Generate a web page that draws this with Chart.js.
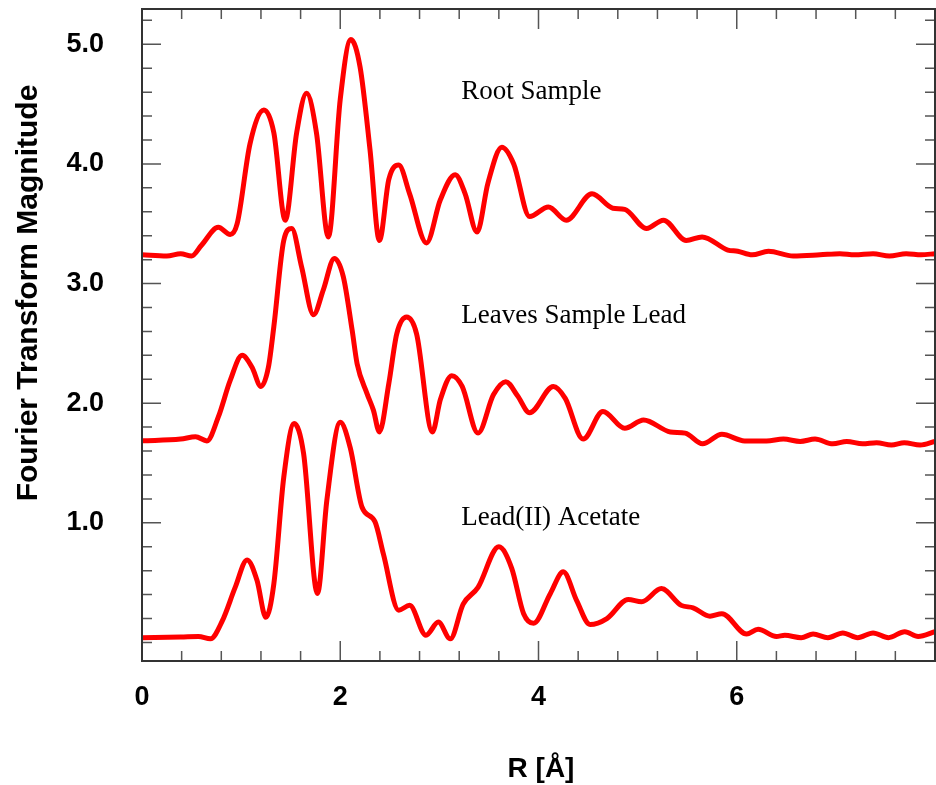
<!DOCTYPE html>
<html lang="en">
<head>
<meta charset="UTF-8">
<title>Fourier Transform Magnitude</title>
<script src="https://cdn.jsdelivr.net/npm/chart.js"></script>
<style>
    body { margin: 0; background: #ffffff; }
    #wrap { width: 936px; height: 785px; }
</style>
</head>
<body>
<div id="wrap"><canvas id="ft" width="936" height="785"></canvas></div>
<script>
// R values (Å) and magnitudes
const rootR = [0, 0.25, 0.39, 0.5, 0.6, 0.77, 0.89, 0.96, 1.09, 1.23, 1.33, 1.445, 1.56, 1.66, 1.76, 1.88, 2.0, 2.107, 2.2, 2.3,
    2.395, 2.49, 2.59, 2.70, 2.87, 3.01, 3.16, 3.26, 3.38, 3.49, 3.63, 3.75, 3.91, 4.10, 4.28, 4.54, 4.75, 4.87, 5.09, 5.26,
    5.49, 5.65, 5.91, 6.01, 6.155, 6.32, 6.57, 6.84, 7.04, 7.19, 7.375, 7.54, 7.71, 7.86, 8.0];
const rootV = [3.24, 3.23, 3.25, 3.23, 3.32, 3.47, 3.41, 3.50, 4.17, 4.45, 4.26, 3.53, 4.26, 4.59, 4.26, 3.39, 4.54, 5.04, 4.81, 4.12,
    3.36, 3.87, 3.99, 3.75, 3.34, 3.70, 3.91, 3.75, 3.43, 3.84, 4.14, 4.0, 3.56, 3.64, 3.53, 3.75, 3.63, 3.62, 3.46, 3.53,
    3.36, 3.39, 3.28, 3.27, 3.24, 3.27, 3.23, 3.24, 3.25, 3.24, 3.25, 3.23, 3.25, 3.24, 3.25];

const leavesR = [0, 0.39, 0.54, 0.655, 0.77, 0.89, 1.01, 1.11, 1.20, 1.275, 1.33, 1.43, 1.51, 1.61, 1.73, 1.83, 1.94, 2.03, 2.12, 2.17,
    2.27, 2.335, 2.395, 2.49, 2.57, 2.67, 2.77, 2.93, 3.01, 3.125, 3.23, 3.39, 3.545, 3.67, 3.79, 3.91, 4.15, 4.27, 4.45, 4.65,
    4.87, 5.06, 5.33, 5.48, 5.655, 5.85, 6.08, 6.30, 6.47, 6.64, 6.79, 6.97, 7.11, 7.27, 7.41, 7.56, 7.69, 7.85, 8.0];
const leavesV = [1.685, 1.70, 1.72, 1.685, 1.885, 2.19, 2.40, 2.30, 2.14, 2.30, 2.64, 3.36, 3.46, 3.14, 2.74, 2.95, 3.21, 3.06, 2.61, 2.33,
    2.08, 1.94, 1.76, 2.165, 2.58, 2.72, 2.58, 1.76, 2.03, 2.23, 2.14, 1.75, 2.07, 2.18, 2.06, 1.92, 2.14, 2.04, 1.70, 1.93,
    1.79, 1.86, 1.76, 1.75, 1.66, 1.74, 1.685, 1.685, 1.70, 1.68, 1.70, 1.66, 1.68, 1.66, 1.67, 1.65, 1.67, 1.65, 1.68];

const acetateR = [0, 0.39, 0.57, 0.69, 0.81, 0.94, 1.06, 1.16, 1.25, 1.33, 1.43, 1.535, 1.63, 1.77, 1.865, 2.0, 2.10, 2.22, 2.35, 2.435,
    2.59, 2.70, 2.865, 2.99, 3.11, 3.24, 3.39, 3.60, 3.73, 3.85, 3.95, 4.12, 4.25, 4.385, 4.52, 4.69, 4.905, 5.04, 5.24, 5.44,
    5.56, 5.73, 5.85, 6.10, 6.215, 6.40, 6.485, 6.65, 6.77, 6.92, 7.07, 7.22, 7.375, 7.53, 7.695, 7.83, 8.0];
const acetateV = [0.04, 0.045, 0.05, 0.03, 0.18, 0.46, 0.69, 0.52, 0.21, 0.49, 1.38, 1.83, 1.58, 0.41, 1.19, 1.84, 1.63, 1.13, 1.01, 0.74,
    0.27, 0.31, 0.06, 0.17, 0.03, 0.32, 0.46, 0.80, 0.62, 0.24, 0.16, 0.41, 0.59, 0.35, 0.15, 0.20, 0.36, 0.34, 0.45, 0.31,
    0.29, 0.22, 0.24, 0.07, 0.11, 0.05, 0.06, 0.04, 0.07, 0.04, 0.08, 0.04, 0.08, 0.04, 0.09, 0.05, 0.09];

const xTickVals = [0, 2, 4, 6];
const yTickVals = [1, 2, 3, 4, 5];
const curveNames = ['Root Sample', 'Leaves Sample Lead', 'Lead(II) Acetate'];
// where each curve name sits, in data units (R, magnitude at baseline)
const nameAt = [[3.22, 4.545], [3.22, 2.67], [3.22, 0.98]];

const toPoints = (rs, vs) => rs.map((r, i) => ({ x: r, y: vs[i] }));

const lineStyle = {
    borderColor: '#ff0000',
    borderWidth: 5,
    pointRadius: 0,
    fill: false,
    cubicInterpolationMode: 'monotone'
};

const decorations = {
    id: 'decorations',
    afterDatasetsDraw(chart) {
        const { ctx, chartArea: a, scales: { x, y } } = chart;
        ctx.save();

        // minor/major ticks on all four sides
        ctx.strokeStyle = '#555';
        ctx.lineWidth = 1.5;
        ctx.beginPath();
        for (let i = 1; i < 20; i++) {
            const px = x.getPixelForValue(i * 0.4);
            const len = i % 5 === 0 ? 20 : 10;
            ctx.moveTo(px, a.bottom); ctx.lineTo(px, a.bottom - len);
            ctx.moveTo(px, a.top); ctx.lineTo(px, a.top + len);
        }
        for (let i = 0; i <= 26; i++) {
            const py = y.getPixelForValue(i * 0.2);
            const len = (i % 5 === 0 && i > 0) ? 19 : 10;
            ctx.moveTo(a.left, py); ctx.lineTo(a.left + len, py);
            ctx.moveTo(a.right, py); ctx.lineTo(a.right - len, py);
        }
        ctx.stroke();

        ctx.strokeStyle = '#333';
        ctx.lineWidth = 2;
        ctx.strokeRect(a.left, a.top, a.right - a.left, a.bottom - a.top);

        // curve names
        ctx.fillStyle = '#000';
        ctx.font = '27px "Liberation Serif", "Times New Roman", serif';
        ctx.textAlign = 'left';
        ctx.textBaseline = 'alphabetic';
        curveNames.forEach((name, i) => {
            ctx.fillText(name, x.getPixelForValue(nameAt[i][0]), y.getPixelForValue(nameAt[i][1]));
        });

        // axis titles
        ctx.font = 'bold 28px "Liberation Sans", Arial, sans-serif';
        ctx.textAlign = 'center';
        ctx.fillText('R [Å]', 541, 777);

        ctx.translate(37, 293);
        ctx.rotate(-Math.PI / 2);
        ctx.font = 'bold 30px "Liberation Sans", Arial, sans-serif';
        ctx.fillText('Fourier Transform Magnitude', 0, 0);
        ctx.restore();
    }
};

const tickFont = { family: '"Liberation Sans", Arial, sans-serif', size: 27, weight: 'bold' };

new Chart(document.getElementById('ft'), {
    type: 'line',
    data: {
        datasets: [
            { ...lineStyle, label: curveNames[0], data: toPoints(rootR, rootV) },
            { ...lineStyle, label: curveNames[1], data: toPoints(leavesR, leavesV) },
            { ...lineStyle, label: curveNames[2], data: toPoints(acetateR, acetateV) }
        ]
    },
    options: {
        responsive: false,
        animation: false,
        layout: { padding: { top: 9, right: 1, left: 0, bottom: 0 } },
        plugins: { legend: { display: false }, tooltip: { enabled: false } },
        scales: {
            x: {
                type: 'linear',
                min: 0,
                max: 8,
                grid: { display: false, drawTicks: false },
                border: { display: false },
                afterBuildTicks: s => { s.ticks = xTickVals.map(v => ({ value: v })); },
                afterFit: s => { s.height = 124; s.paddingLeft = 0; s.paddingRight = 0; },
                ticks: { font: tickFont, color: '#000', padding: 20, maxRotation: 0, autoSkip: false,
                         callback: v => String(v) }
            },
            y: {
                min: -0.155,
                max: 5.295,
                grid: { display: false, drawTicks: false },
                border: { display: false },
                afterBuildTicks: s => { s.ticks = yTickVals.map(v => ({ value: v })); },
                afterFit: s => { s.width = 142; s.paddingTop = 0; s.paddingBottom = 0; },
                ticks: { font: tickFont, color: '#000', padding: 38, autoSkip: false,
                         callback: v => v.toFixed(1) }
            }
        }
    },
    plugins: [decorations]
});
</script>
</body>
</html>
